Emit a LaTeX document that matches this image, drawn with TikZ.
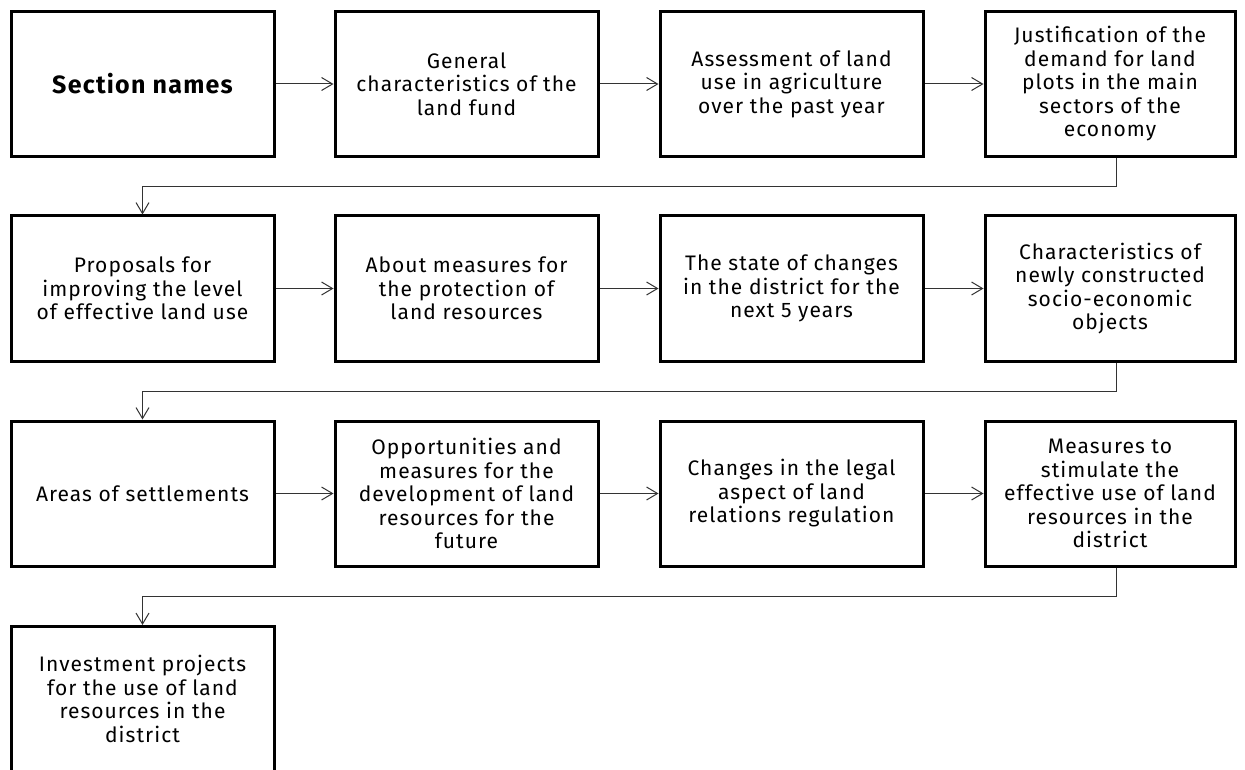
\documentclass[tikz,border=0pt]{standalone}
\usepackage{fontspec}
\setmainfont{Fira Sans}[LetterSpace=5]
\usetikzlibrary{arrows.meta}
\begin{document}
\begin{tikzpicture}[x=1pt,y=-1pt,
  box/.style={draw=black, line width=3pt, minimum width=263pt, minimum height=145pt,
    inner sep=0pt, align=center, font=\fontsize{21}{23.5}\selectfont},
  box4/.style={box, minimum width=250pt},
  arr/.style={draw=black!80, line width=1pt, -{Straight Barb[length=11pt,width=13pt]}},
  conn/.style={arr}]
\useasboundingbox (0,0) rectangle (1245,770);
\fill[white] (0,0) rectangle (1245,770);
\clip (0,0) rectangle (1245,770);
% row 1
\node[box, font=\bfseries\fontsize{25}{28}\selectfont] (b1) at (142.5,84) {Section names};
\node[box] (b2) at (466.5,84) {General\\characteristics of the\\land fund};
\node[box] (b3) at (791.5,84) {Assessment of land\\use in agriculture\\over the past year};
\node[box4] (b4) at (1110,84) {Justification of the\\demand for land\\plots in the main\\sectors of the\\economy};
% row 2
\node[box] (b5) at (142.5,288.5) {Proposals for\\improving the level\\of effective land use};
\node[box] (b6) at (466.5,288.5) {About measures for\\the protection of\\land resources};
\node[box] (b7) at (791.5,288.5) {The state of changes\\in the district for the\\next 5 years};
\node[box4] (b8) at (1110,288.5) {Characteristics of\\newly constructed\\socio-economic\\objects};
% row 3
\node[box] (b9) at (142.5,493.5) {Areas of settlements};
\node[box] (b10) at (466.5,493.5) {Opportunities and\\measures for the\\development of land\\resources for the\\future};
\node[box] (b11) at (791.5,493.5) {Changes in the legal\\aspect of land\\relations regulation};
\node[box4] (b12) at (1110,493.5) {Measures to\\stimulate the\\effective use of land\\resources in the\\district};
% row 4
\node[box] (b13) at (142.5,699) {Investment projects\\for the use of land\\resources in the\\district};
% horizontal arrows
\foreach \a/\b in {b1/b2,b2/b3,b3/b4,b5/b6,b6/b7,b7/b8,b9/b10,b10/b11,b11/b12}
  \draw[arr] (\a.east) -- (\b.west);
% row connectors
\draw[conn] ([xshift=6pt]b4.south) -- ++(0,29) -| (b5.north);
\draw[conn] ([xshift=6pt]b8.south) -- ++(0,29) -| (b9.north);
\draw[conn] ([xshift=6pt]b12.south) -- ++(0,29) -| (b13.north);
\end{tikzpicture}
\end{document}
